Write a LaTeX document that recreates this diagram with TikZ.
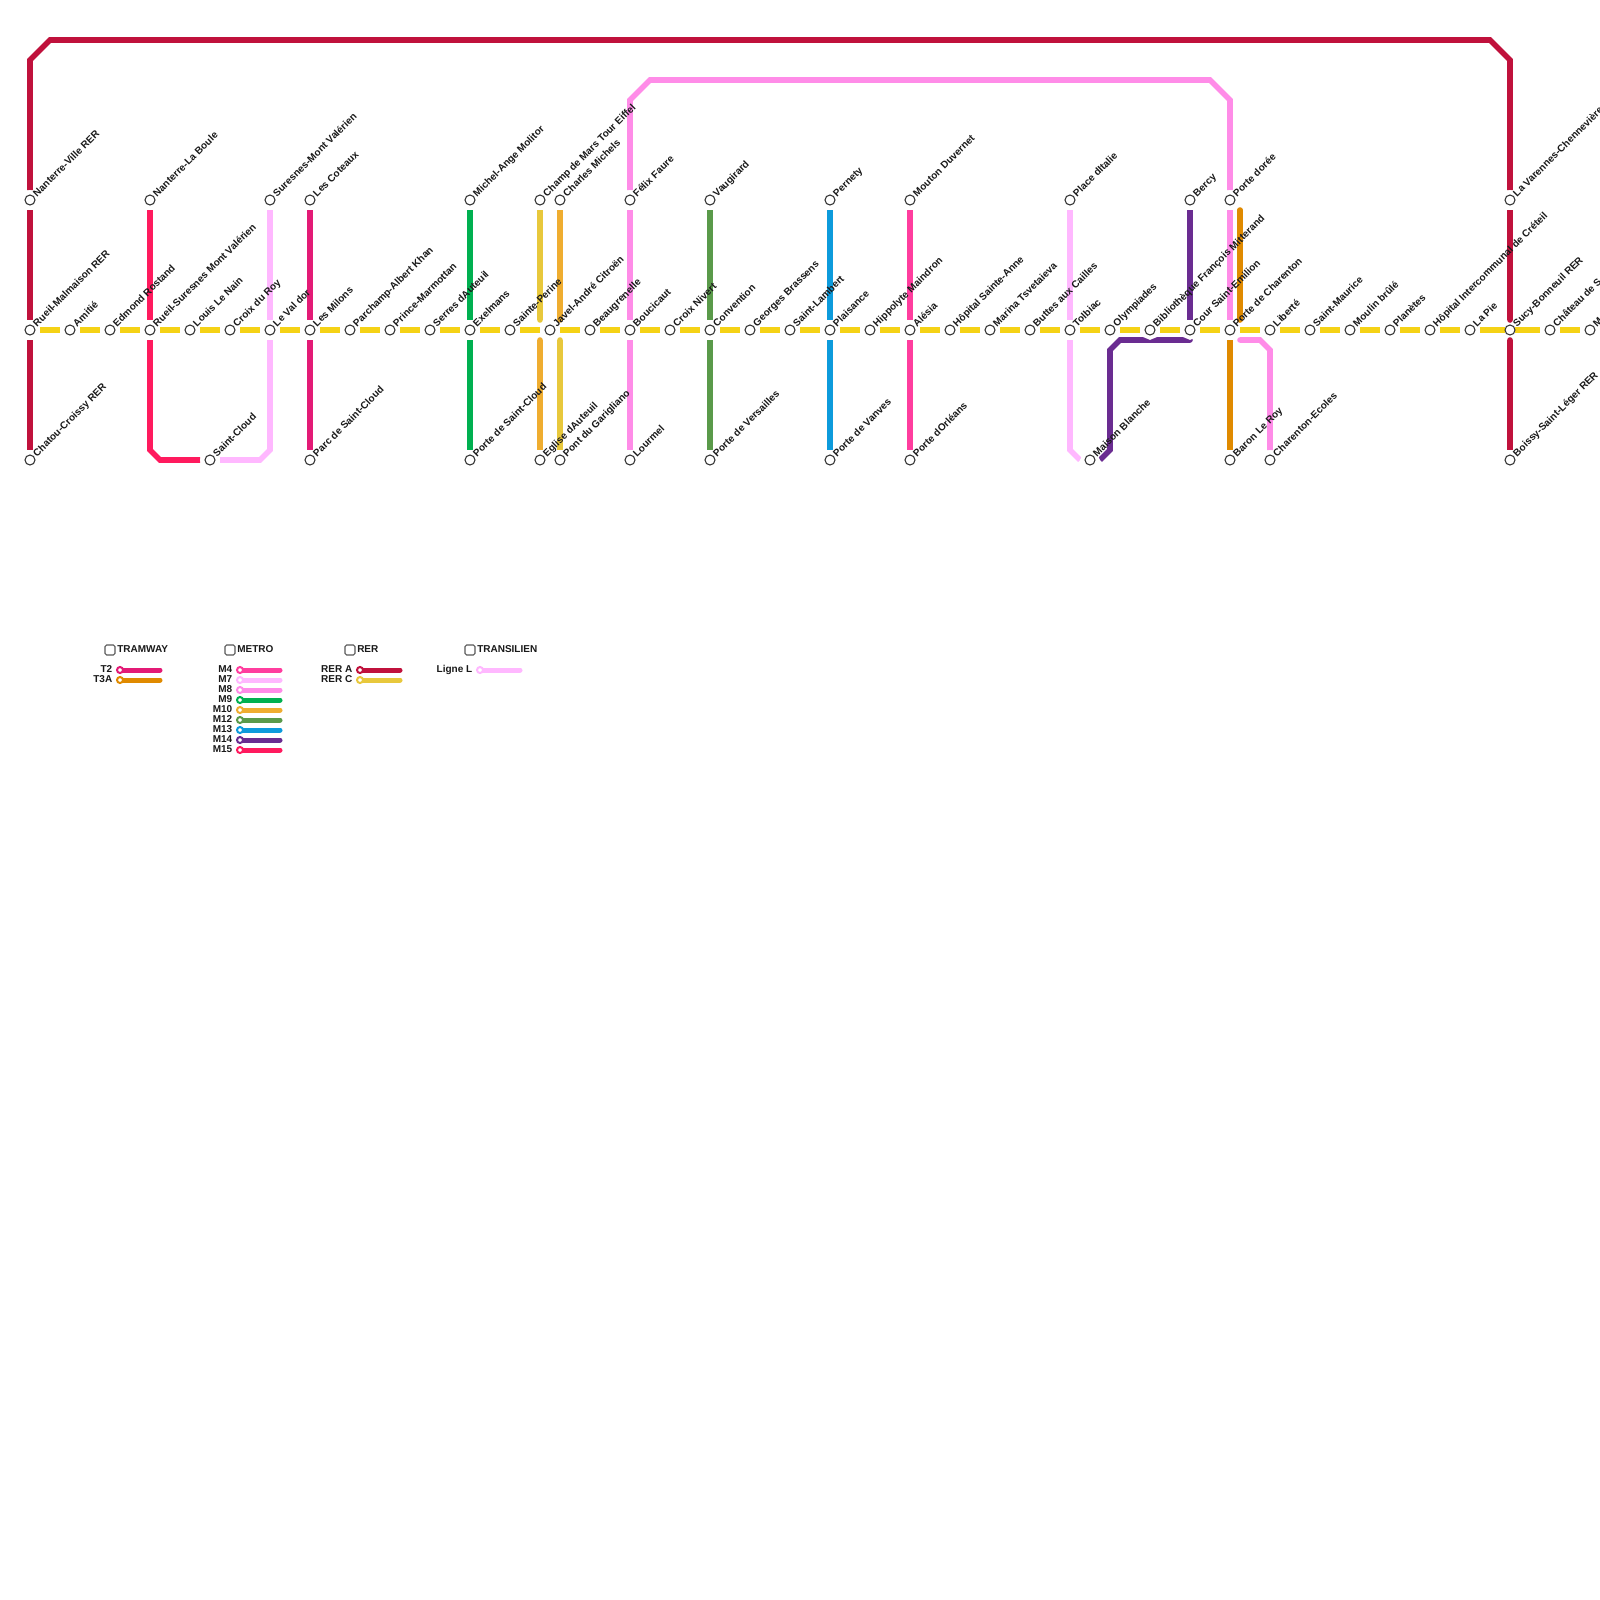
\documentclass[tikz,border=0pt]{standalone}
\usepackage{fontspec}
\setmainfont{Liberation Sans}
\pgfdeclarelayer{lines}
\pgfsetlayers{lines,main}
\definecolor{cRERA}{HTML}{C0113C}
\definecolor{cRERC}{HTML}{E8C83C}
\definecolor{cMQ}{HTML}{FF1A5E}
\definecolor{cMS}{HTML}{FFB8FF}
\definecolor{cMH}{HTML}{FF8CE8}
\definecolor{cMN}{HTML}{00B050}
\definecolor{cMT}{HTML}{EFAD30}
\definecolor{cMD}{HTML}{5A9A4A}
\definecolor{cMV}{HTML}{0D9BDC}
\definecolor{cMF}{HTML}{FF3D9E}
\definecolor{cMY}{HTML}{6A2C91}
\definecolor{cTD}{HTML}{E31A76}
\definecolor{cTT}{HTML}{E08A00}
\definecolor{cYL}{HTML}{F5D215}
\tikzset{
  x=0.75pt,y=-0.75pt,
  st/.style={circle,draw=black!80,fill=white,line width=0.8pt,minimum size=7.5pt,inner sep=0pt,outer sep=0pt},
  sthalo/.style={st,preaction={draw=white,line width=6.75pt}},
  conn/.style={line width=4.2pt,shorten <=3.75pt,shorten >=3.75pt},
  free/.style={line width=4.2pt},
  stlabel/.style={font=\bfseries\fontsize{7.5pt}{9pt}\selectfont,rotate=45,anchor=base west,inner sep=0pt,text=black!90},
  legtext/.style={font=\bfseries\fontsize{7.5pt}{9pt}\selectfont,inner sep=0pt,text=black!90},
  legbox/.style={draw=black!65,line width=0.8pt,rounded corners=1.2pt,minimum size=7.5pt,inner sep=0pt,fill=white},
  legline/.style={line width=3.75pt,line cap=round},
  legdot/.style={circle,fill=white,line width=1.5pt,minimum size=4.5pt,inner sep=0pt,outer sep=0pt},
}
\def\mainlist{30/Rueil-Malmaison RER,70/Amitié,110/Edmond Rostand,150/Rueil-Suresnes Mont Valérien,190/Louis Le Nain,230/Croix du Roy,270/Le Val dor,310/Les Milons,350/Parchamp-Albert Khan,390/Prince-Marmottan,430/Serres dAuteuil,470/Exelmans,510/Sainte-Perine,550/Javel-André Citroën,590/Beaugrenelle,630/Boucicaut,670/Croix Nivert,710/Convention,750/Georges Brassens,790/Saint-Lambert,830/Plaisance,870/Hippolyte Maindron,910/Alésia,950/Hôpital Sainte-Anne,990/Marina Tsvetaieva,1030/Buttes aux Cailles,1070/Tolbiac,1110/Olympiades,1150/Bibliothèque François Mitterand,1190/Cour Saint-Emilion,1230/Porte de Charenton,1270/Liberté,1310/Saint-Maurice,1350/Moulin brûlé,1390/Planètes,1430/Hôpital Intercommunal de Créteil,1470/La Pie,1510/Sucy-Bonneuil RER,1550/Château de S,1590/M}
\def\toplist{30/Nanterre-Ville RER,150/Nanterre-La Boule,270/Suresnes-Mont Valérien,310/Les Coteaux,470/Michel-Ange Molitor,540/Champ de Mars Tour Eiffel,560/Charles Michels,630/Félix Faure,710/Vaugirard,830/Pernety,910/Mouton Duvernet,1070/Place dItalie,1190/Bercy,1230/Porte dorée,1510/La Varennes-Chennevières}
\def\botlist{30/Chatou-Croissy RER,210/Saint-Cloud,310/Parc de Saint-Cloud,470/Porte de Saint-Cloud,540/Eglise dAuteuil,560/Pont du Garigliano,630/Lourmel,710/Porte de Versailles,830/Porte de Vanves,910/Porte dOrléans,1090/Maison Blanche,1230/Baron Le Roy,1270/Charenton-Ecoles,1510/Boissy-Saint-Léger RER}
\begin{document}
\begin{tikzpicture}
\useasboundingbox (0,0) rectangle (1600,1600);
\begin{pgfonlayer}{lines}
\fill[white] (0,0) rectangle (1600,1600);
\end{pgfonlayer}
\clip (0,0) rectangle (1600,1600);
% stations
\foreach \x/\lab in \mainlist {\ifnum\x=1510 \node[st] (m\x) at (\x,330) {};\else \node[sthalo] (m\x) at (\x,330) {};\fi}
\foreach \x/\lab in \toplist {\node[sthalo] (a\x) at (\x,200) {};}
\foreach \x/\lab in \botlist {\node[sthalo] (b\x) at (\x,460) {};}
% free ends
\coordinate (rcT) at (540,320); \coordinate (mtT) at (560,320);
\coordinate (mtB) at (540,340); \coordinate (rcB) at (560,340);
\coordinate (tdA) at (1240,210); \coordinate (tdB) at (1240,320);
\coordinate (hE) at (1240,340);
\coordinate (ysE) at (1080,460);
\coordinate (yS) at (1100,460); \coordinate (yE) at (1190,340);
\coordinate (raT) at (1510,320); \coordinate (raB) at (1510,340);
\begin{pgfonlayer}{lines}
% yellow line
\foreach \x [evaluate=\x as \y using int(\x+40)] in {30,70,110,150,190,230,270,310,350,390,430,1470,470,510,550,590,630,670,710,750,790,830,870,910,950,990,1030,1070,1110,1150,1190,1230,1270,1310,1350,1390,1430,1550}
  {\ifnum\x=1470 \draw[conn,cYL,shorten >=0pt] (m\x) -- (m\y);\else \draw[conn,cYL] (m\x) -- (m\y);\fi}
\draw[conn,cYL,shorten <=0pt,shorten >=3.75pt] (m1510) -- (m1550);
% RER A
\draw[conn,cRERA] (a30) -- (30,60) -- (50,40) -- (1490,40) -- (1510,60) -- (a1510);
\draw[conn,cRERA] (a30) -- (m30);
\draw[conn,cRERA] (m30) -- (b30);
\draw[conn,cRERA,shorten >=0pt] (a1510) -- (raT);
\fill[cRERA] (raT) circle[radius=2.1pt];
\draw[conn,cRERA,shorten <=0pt] (raB) -- (b1510);
\fill[cRERA] (raB) circle[radius=2.1pt];
% M15
\draw[conn,cMQ] (a150) -- (m150);
\draw[conn,cMQ] (m150) -- (150,450) -- (160,460) -- (b210);
% M7
\draw[conn,cMS] (a270) -- (m270);
\draw[conn,cMS] (m270) -- (270,450) -- (260,460) -- (b210);
\draw[conn,cMS] (a1070) -- (m1070);
\draw[conn,cMS,shorten >=0pt] (m1070) -- (1070,450) -- (ysE);
% T2
\draw[conn,cTD] (a310) -- (m310);
\draw[conn,cTD] (m310) -- (b310);
% M9
\draw[conn,cMN] (a470) -- (m470);
\draw[conn,cMN] (m470) -- (b470);
% RER C and M10
\draw[conn,cRERC,shorten >=0pt] (a540) -- (rcT);
\fill[cRERC] (rcT) circle[radius=2.1pt];
\draw[conn,cRERC,shorten <=0pt] (rcB) -- (b560);
\fill[cRERC] (rcB) circle[radius=2.1pt];
\draw[conn,cMT,shorten >=0pt] (a560) -- (mtT);
\fill[cMT] (mtT) circle[radius=2.1pt];
\draw[conn,cMT,shorten <=0pt] (mtB) -- (b540);
\fill[cMT] (mtB) circle[radius=2.1pt];
% M8
\draw[conn,cMH] (a630) -- (630,100) -- (650,80) -- (1210,80) -- (1230,100) -- (a1230);
\draw[conn,cMH] (a630) -- (m630);
\draw[conn,cMH] (m630) -- (b630);
\draw[conn,cMH] (a1230) -- (m1230);
\draw[conn,cMH,shorten <=0pt] (hE) -- (1260,340) -- (1270,350) -- (b1270);
\fill[cMH] (hE) circle[radius=2.1pt];
% M12, M13, M4
\draw[conn,cMD] (a710) -- (m710);
\draw[conn,cMD] (m710) -- (b710);
\draw[conn,cMV] (a830) -- (m830);
\draw[conn,cMV] (m830) -- (b830);
\draw[conn,cMF] (a910) -- (m910);
\draw[conn,cMF] (m910) -- (b910);
% M14
\draw[conn,cMY] (a1190) -- (m1190);
\draw[free,cMY] (yS) -- (1110,450) -- (1110,350) -- (1120,340) -- (yE);
\fill[cMY] (yE) circle[radius=2.1pt];
% T3A
\draw[free,cTT,line cap=round] (tdA) -- (tdB);
\draw[conn,cTT] (m1230) -- (b1230);
\end{pgfonlayer}
% station labels
\foreach \x/\lab in \mainlist {\node[stlabel] (lm\x) at (\x+7,327.5) {\lab};}
\foreach \x/\lab in \toplist {\node[stlabel] (la\x) at (\x+7,197.5) {\lab};}
\foreach \x/\lab in \botlist {\node[stlabel] (lb\x) at (\x+7,457.5) {\lab};}
% legend
\foreach \bx/\tx/\t in {110/117/TRAMWAY,230/237/METRO,350/357/RER,470/477/TRANSILIEN}
  {\node[legbox] (box\bx) at (\bx,650) {};
   \node[legtext,anchor=base west] (ttl\bx) at (\tx,652.5) {\t};}
\foreach \lx/\ly/\c/\t in {120/670/cTD/T2,120/680/cTT/T3A,240/670/cMF/M4,240/680/cMS/M7,240/690/cMH/M8,240/700/cMN/M9,240/710/cMT/M10,240/720/cMD/M12,240/730/cMV/M13,240/740/cMY/M14,240/750/cMQ/M15,360/670/cRERA/RER A,360/680/cRERC/RER C,480/670/cMS/Ligne L}
  {\coordinate (e\lx\ly) at (\lx+40,\ly);
   \node[legdot,draw=\c] (d\lx\ly) at (\lx,\ly) {};
   \begin{pgfonlayer}{lines}\draw[legline,\c] (d\lx\ly.center) -- (e\lx\ly);\end{pgfonlayer}
   \node[legtext,anchor=base east] (t\lx\ly) at (\lx-7.5,\ly+2.5) {\t};}
\end{tikzpicture}
\end{document}
